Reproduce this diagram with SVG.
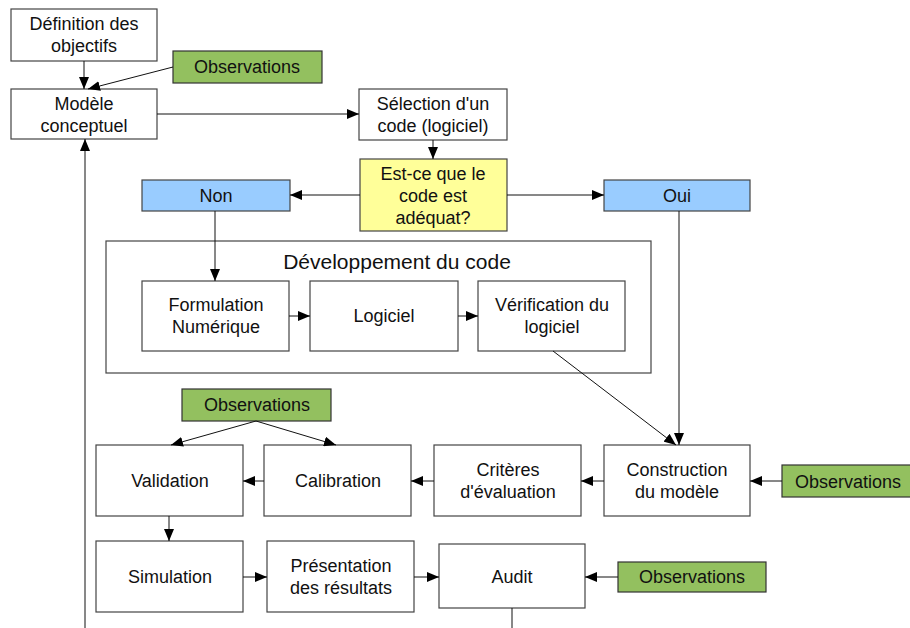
<svg xmlns="http://www.w3.org/2000/svg" width="910" height="628" viewBox="0 0 910 628">
<defs>
<marker id="ah" viewBox="0 0 12 10" refX="12" refY="5" markerWidth="12" markerHeight="10" markerUnits="userSpaceOnUse" orient="auto">
<path d="M0,0 L12,5 L0,10 z" fill="#000"/>
</marker>
</defs>
<style>
.b{fill:#fff;stroke:#444;stroke-width:1.2}
.g{fill:#93c05f;stroke:#333;stroke-width:1.2}
.bl{fill:#99ccff;stroke:#444;stroke-width:1.2}
.y{fill:#ffff99;stroke:#444;stroke-width:1.2}
text{font-family:"Liberation Sans",Arial,sans-serif;font-size:18px;fill:#111;text-anchor:middle}
.t{font-size:21px}
.c line{stroke:#111;stroke-width:1;marker-end:url(#ah)}
.c line.n{marker-end:none}
</style>
<g id="dev"><rect class="b" x="106" y="241" width="545" height="132"/><text class="t" x="397" y="269">Développement du code</text></g>
<g id="def"><rect class="b" x="11" y="9" width="146" height="52"/><text x="84" y="30">Définition des</text><text x="84" y="52">objectifs</text></g>
<g id="obs1"><rect class="g" x="173" y="51" width="149" height="32"/><text x="247" y="73">Observations</text></g>
<g id="mod"><rect class="b" x="11" y="89" width="146" height="50"/><text x="84" y="110">Modèle</text><text x="84" y="132">conceptuel</text></g>
<g id="sel"><rect class="b" x="359" y="89" width="148" height="51"/><text x="433" y="110">Sélection d'un</text><text x="433" y="132">code (logiciel)</text></g>
<g id="q"><rect class="y" x="360" y="159" width="147" height="72"/><text x="433" y="180">Est-ce que le</text><text x="433" y="202">code est</text><text x="433" y="224">adéquat?</text></g>
<g id="non"><rect class="bl" x="142" y="180" width="148" height="31"/><text x="216" y="202">Non</text></g>
<g id="oui"><rect class="bl" x="604" y="180" width="146" height="31"/><text x="677" y="202">Oui</text></g>
<g id="form"><rect class="b" x="142" y="281" width="147" height="70"/><text x="216" y="311">Formulation</text><text x="216" y="333">Numérique</text></g>
<g id="log"><rect class="b" x="310" y="281" width="148" height="70"/><text x="384" y="322">Logiciel</text></g>
<g id="ver"><rect class="b" x="478" y="281" width="147" height="70"/><text x="552" y="311">Vérification du</text><text x="552" y="333">logiciel</text></g>
<g id="obs2"><rect class="g" x="182" y="389" width="149" height="32"/><text x="257" y="411">Observations</text></g>
<g id="val"><rect class="b" x="96" y="445" width="147" height="71"/><text x="170" y="487">Validation</text></g>
<g id="cal"><rect class="b" x="264" y="445" width="147" height="71"/><text x="338" y="487">Calibration</text></g>
<g id="cri"><rect class="b" x="434" y="445" width="147" height="71"/><text x="508" y="476">Critères</text><text x="508" y="498">d'évaluation</text></g>
<g id="con"><rect class="b" x="604" y="445" width="146" height="71"/><text x="677" y="476">Construction</text><text x="677" y="498">du modèle</text></g>
<g id="obs3"><rect class="g" x="782" y="465" width="130" height="32"/><text x="848" y="488">Observations</text></g>
<g id="sim"><rect class="b" x="96" y="541" width="147" height="71"/><text x="170" y="583">Simulation</text></g>
<g id="pre"><rect class="b" x="267" y="541" width="147" height="71"/><text x="341" y="572">Présentation</text><text x="341" y="594">des résultats</text></g>
<g id="aud"><rect class="b" x="439" y="544" width="146" height="64"/><text x="512" y="583">Audit</text></g>
<g id="obs4"><rect class="g" x="618" y="562" width="148" height="30"/><text x="692" y="583">Observations</text></g>
<g id="connectors" class="c">
<line x1="84" y1="61" x2="84" y2="89"/>
<line x1="173" y1="67" x2="88" y2="89"/>
<line x1="157" y1="114" x2="359" y2="114"/>
<line x1="433" y1="140" x2="433" y2="159"/>
<line x1="360" y1="195" x2="290" y2="195"/>
<line x1="507" y1="195" x2="604" y2="195"/>
<line x1="215" y1="211" x2="215" y2="281"/>
<line x1="289" y1="316" x2="310" y2="316"/>
<line x1="458" y1="316" x2="478" y2="316"/>
<line x1="553" y1="351" x2="676" y2="445"/>
<line x1="679" y1="211" x2="679" y2="445"/>
<line x1="604" y1="481" x2="581" y2="481"/>
<line x1="782" y1="481" x2="750" y2="481"/>
<line x1="434" y1="481" x2="411" y2="481"/>
<line x1="264" y1="481" x2="243" y2="481"/>
<line x1="256" y1="421" x2="171" y2="445"/>
<line x1="256" y1="421" x2="336" y2="445"/>
<line x1="169" y1="516" x2="169" y2="541"/>
<line x1="243" y1="577" x2="267" y2="577"/>
<line x1="414" y1="577" x2="439" y2="577"/>
<line x1="618" y1="577" x2="585" y2="577"/>
<line class="n" x1="512" y1="608" x2="512" y2="628"/>
<line x1="85" y1="628" x2="85" y2="139"/>
</g>
</svg>
